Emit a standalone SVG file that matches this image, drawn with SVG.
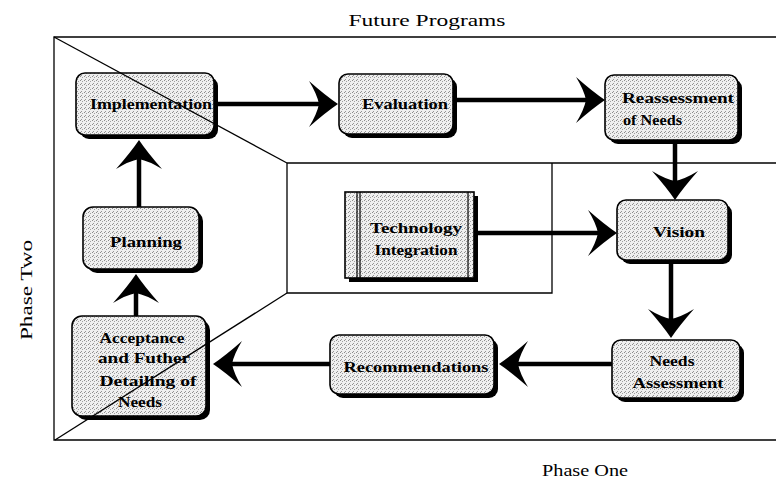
<svg xmlns="http://www.w3.org/2000/svg" width="776" height="478" viewBox="0 0 776 478">
<style>
.box{fill:url(#dots);stroke:#000;stroke-width:1.6}
.sh{fill:#000}
.t{font-family:"Liberation Serif","Times New Roman",serif;font-size:14.5px;font-weight:bold;fill:#000}
.lbl{font-family:"Liberation Serif","Times New Roman",serif;font-size:16px;fill:#000}
.frame{fill:none;stroke:#000;stroke-width:1.3}
.conn line{stroke:#000;stroke-width:4.5}
.ah{fill:#000}
</style>
<defs>
<pattern id="dots" width="4" height="4" patternUnits="userSpaceOnUse">
<rect width="4" height="4" fill="#efefef"/>
<rect x="0" y="0" width="1" height="1" fill="#8c8c8c"/>
<rect x="2" y="1" width="1" height="1" fill="#a0a0a0"/>
<rect x="1" y="3" width="1" height="1" fill="#969696"/>
</pattern>
<path id="ah" class="ah" d="M0,0 Q-12,-8 -29,-23 Q-21,-10 -19,0 Q-21,10 -29,23 Q-12,8 0,0 Z"/>
</defs>
<rect width="776" height="478" fill="#fff"/>

<g id="connectors" class="conn">
<line x1="218" y1="104" x2="322" y2="104"/>
<use href="#ah" transform="translate(338,104)"/>
<line x1="457" y1="100" x2="590" y2="100"/>
<use href="#ah" transform="translate(605,100)"/>
<line x1="675" y1="144" x2="675" y2="185"/>
<use href="#ah" transform="translate(675,200) rotate(90)"/>
<line x1="478" y1="233" x2="600" y2="233"/>
<use href="#ah" transform="translate(617,233)"/>
<line x1="671" y1="264" x2="671" y2="323"/>
<use href="#ah" transform="translate(671,338) rotate(90)"/>
<line x1="612" y1="364" x2="515" y2="364"/>
<use href="#ah" transform="translate(499,364) rotate(180)"/>
<line x1="330" y1="364" x2="228" y2="364"/>
<use href="#ah" transform="translate(213,364) rotate(180)"/>
<line x1="136" y1="316" x2="136" y2="290"/>
<use href="#ah" transform="translate(136,274) rotate(-90)"/>
<line x1="139" y1="207" x2="139" y2="156"/>
<use href="#ah" transform="translate(139,140) rotate(-90)"/>
</g>

<g id="n-implementation">
<rect class="sh" x="80" y="77" width="138" height="62" rx="9"/>
<rect class="box" x="76" y="73" width="138" height="62" rx="9"/>
<text class="t" x="151" y="109" text-anchor="middle" textLength="122" lengthAdjust="spacingAndGlyphs">Implementation</text>
</g>

<g id="n-evaluation">
<rect class="sh" x="343" y="78" width="114" height="60" rx="9"/>
<rect class="box" x="339" y="74" width="114" height="60" rx="9"/>
<text class="t" x="405" y="109" text-anchor="middle" textLength="86" lengthAdjust="spacingAndGlyphs">Evaluation</text>
</g>

<g id="n-reassessment">
<rect class="sh" x="609" y="79" width="133" height="65" rx="9"/>
<rect class="box" x="605" y="75" width="133" height="65" rx="9"/>
<text class="t" x="622" y="103" textLength="112" lengthAdjust="spacingAndGlyphs">Reassessment</text>
<text class="t" x="623" y="125" textLength="59" lengthAdjust="spacingAndGlyphs">of Needs</text>
</g>

<g id="n-vision">
<rect class="sh" x="621" y="204" width="111" height="60" rx="9"/>
<rect class="box" x="617" y="200" width="111" height="60" rx="9"/>
<text class="t" x="679" y="237" text-anchor="middle" textLength="52" lengthAdjust="spacingAndGlyphs">Vision</text>
</g>

<g id="n-needs-assessment">
<rect class="sh" x="616" y="344" width="128" height="58" rx="9"/>
<rect class="box" x="612" y="340" width="128" height="58" rx="9"/>
<text class="t" x="672" y="366" text-anchor="middle" textLength="45" lengthAdjust="spacingAndGlyphs">Needs</text>
<text class="t" x="678" y="388" text-anchor="middle" textLength="91" lengthAdjust="spacingAndGlyphs">Assessment</text>
</g>

<g id="n-recommendations">
<rect class="sh" x="334" y="339" width="164" height="59" rx="9"/>
<rect class="box" x="330" y="335" width="164" height="59" rx="9"/>
<text class="t" x="416" y="372" text-anchor="middle" textLength="145" lengthAdjust="spacingAndGlyphs">Recommendations</text>
</g>

<g id="n-acceptance">
<rect class="sh" x="76" y="320" width="134" height="100" rx="10"/>
<rect class="box" x="72" y="316" width="134" height="100" rx="10"/>
<text class="t" x="142" y="343" text-anchor="middle" textLength="85" lengthAdjust="spacingAndGlyphs">Acceptance</text>
<text class="t" x="144" y="363" text-anchor="middle" textLength="92" lengthAdjust="spacingAndGlyphs">and Futher</text>
<text class="t" x="148" y="386" text-anchor="middle" textLength="97" lengthAdjust="spacingAndGlyphs">Detailing of</text>
<text class="t" x="140" y="407" text-anchor="middle" textLength="44" lengthAdjust="spacingAndGlyphs">Needs</text>
</g>

<g id="n-planning">
<rect class="sh" x="87" y="211" width="116" height="62" rx="10"/>
<rect class="box" x="83" y="207" width="116" height="62" rx="10"/>
<text class="t" x="146" y="247" text-anchor="middle" textLength="72" lengthAdjust="spacingAndGlyphs">Planning</text>
</g>

<g id="n-technology">
<rect class="sh" x="349" y="196" width="129" height="86"/>
<rect class="box" x="345" y="192" width="129" height="86"/>
<line x1="357" y1="192" x2="357" y2="278" stroke="#000" stroke-width="1.2"/>
<line x1="360" y1="192" x2="360" y2="278" stroke="#000" stroke-width="1.2"/>
<line x1="468" y1="192" x2="468" y2="278" stroke="#000" stroke-width="1.2"/>
<text class="t" x="416" y="233" text-anchor="middle" textLength="92" lengthAdjust="spacingAndGlyphs">Technology</text>
<text class="t" x="416" y="255" text-anchor="middle" textLength="83" lengthAdjust="spacingAndGlyphs">Integration</text>
</g>

<g id="frame" class="frame">
<polyline points="776,37 54,37 54,440 776,440"/>
<line x1="54" y1="37" x2="287" y2="163"/>
<line x1="287" y1="163" x2="776" y2="163"/>
<polyline points="287,163 287,293 552,293 552,163"/>
<line x1="287" y1="293" x2="55" y2="440"/>
</g>

<g id="labels">
<text class="lbl" x="427" y="26" text-anchor="middle" textLength="157" lengthAdjust="spacingAndGlyphs">Future Programs</text>
<text class="lbl" x="585" y="476" text-anchor="middle" textLength="86" lengthAdjust="spacingAndGlyphs">Phase One</text>
<text class="lbl" transform="translate(32,290) rotate(-90)" text-anchor="middle" textLength="100" lengthAdjust="spacingAndGlyphs">Phase Two</text>
</g>
</svg>
